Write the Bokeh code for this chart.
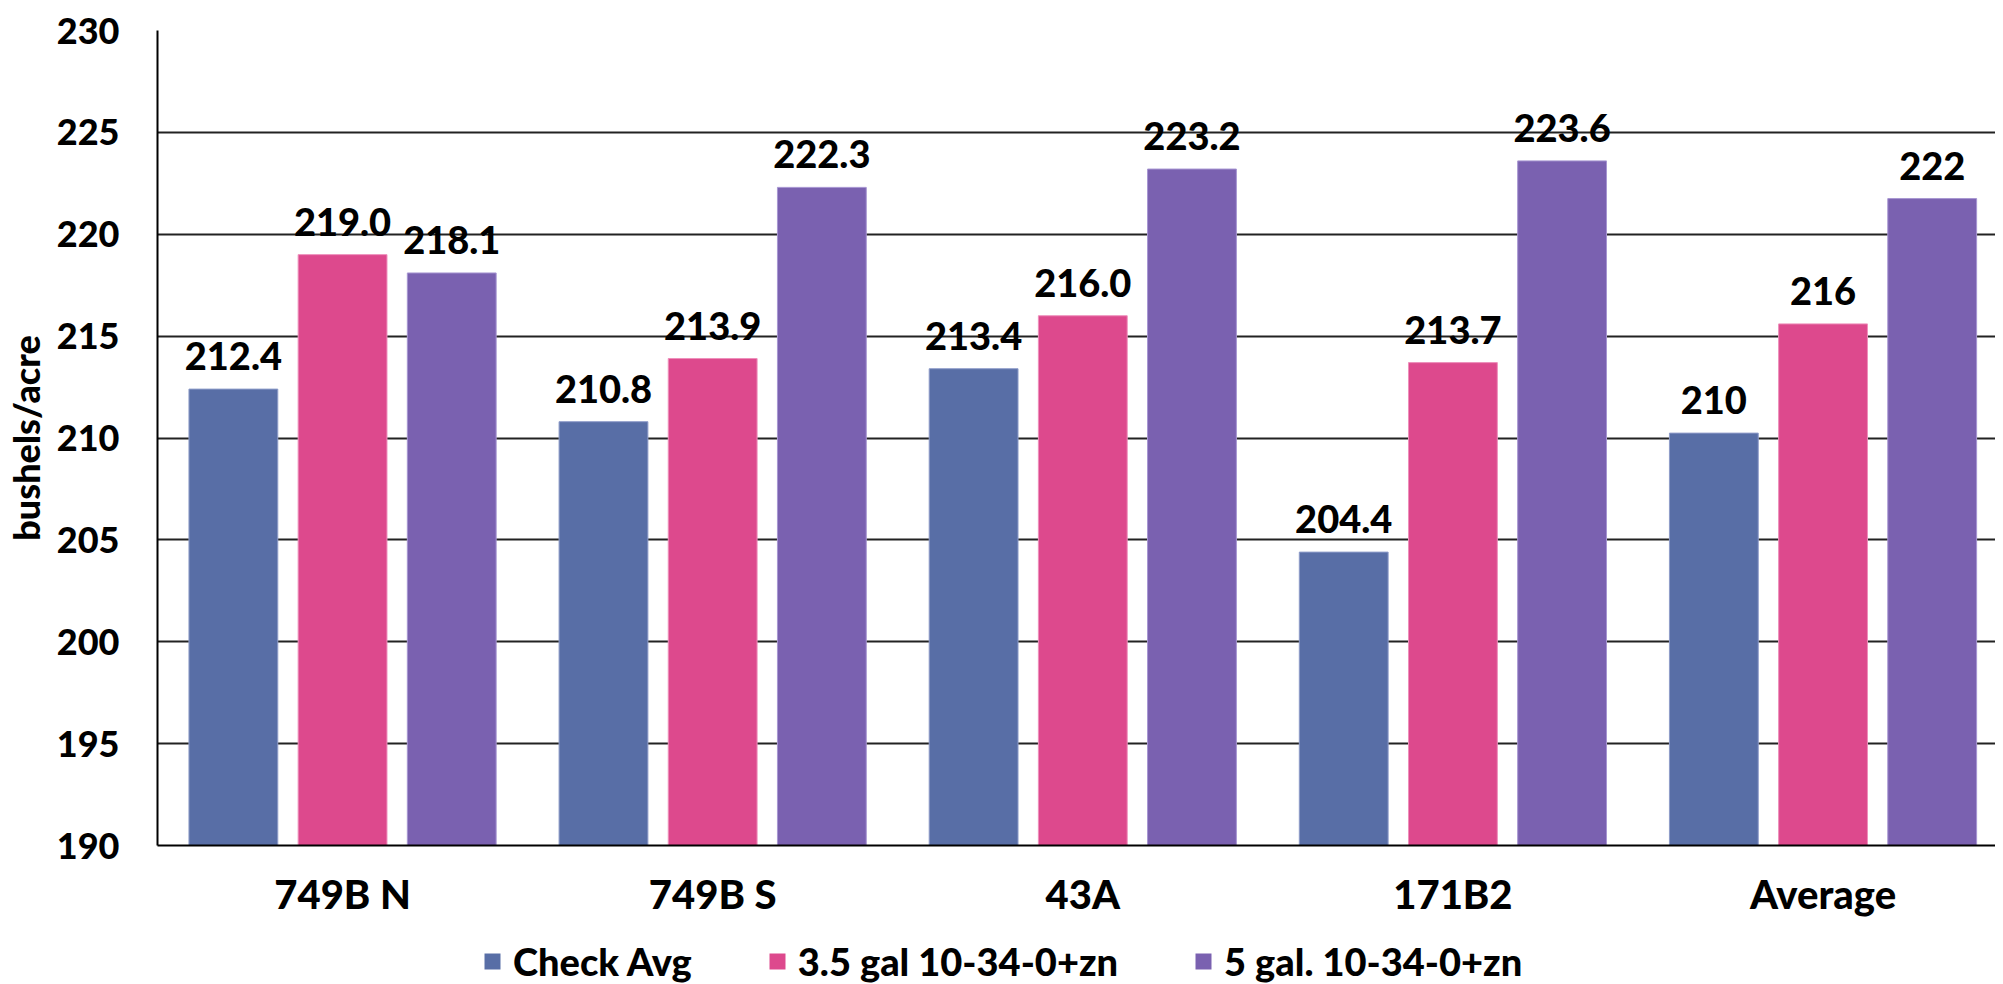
import numpy as np
from bokeh.plotting import figure
from bokeh.layouts import column
from bokeh.models import (ColumnDataSource, LabelSet, Legend, LegendItem,
                          FixedTicker, Range1d)
from bokeh.core.properties import value
from bokeh.embed import file_html
from bokeh.resources import INLINE

# ---- data ----
categories = ["749B N", "749B S", "43A", "171B2", "Average"]
series_names = ["Check Avg", "3.5 gal 10-34-0+zn", "5 gal. 10-34-0+zn"]
check_avg = [212.4, 210.8, 213.4, 204.4, 210.24]
gal_35 = [219.0, 213.9, 216.0, 213.7, 215.6]
gal_5 = [218.1, 222.3, 223.2, 223.6, 221.75]
label_decimals = [1, 1, 1, 1, 0]
y_ticks = [190, 195, 200, 205, 210, 215, 220, 225, 230]
colors = ["#586EA6", "#DD498D", "#7A61B0"]
edge_colors = ["#8E9CC9", "#EE8FBB", "#A796D2"]

FONT = "Lato Black"
STYLE = "normal"
series = [check_avg, gal_35, gal_5]
offsets = [-0.295, 0.0, 0.295]
bar_w = 0.24

p = figure(width=1995, height=920, output_backend="svg", toolbar_location=None,
           x_range=Range1d(-0.5, 4.466), y_range=Range1d(190, 230),
           min_border_left=155, min_border_right=0, min_border_top=30,
           min_border_bottom=72)
p.outline_line_color = None
p.background_fill_color = "white"
p.border_fill_color = "white"

idx = np.arange(len(categories))
renderers = []
for vals, off, col, ecol in zip(series, offsets, colors, edge_colors):
    labels = [f"{v:.{d}f}" for v, d in zip(vals, label_decimals)]
    src = ColumnDataSource(dict(x=idx + off, top=vals, lab=labels))
    r = p.vbar(x="x", top="top", bottom=190, width=bar_w, source=src,
               fill_color=col, line_color=ecol, line_width=1)
    renderers.append(r)
    ls = LabelSet(x="x", y="top", text="lab", source=src, y_offset=19,
                  text_align="center", text_baseline="alphabetic",
                  text_font=value(FONT), text_font_style=STYLE,
                  text_font_size="38px", text_color="black")
    p.add_layout(ls)

# grid
p.xgrid.visible = False
p.ygrid.ticker = FixedTicker(ticks=y_ticks)
p.ygrid.grid_line_color = "#222222"
p.ygrid.grid_line_width = 2

# axes
p.xaxis.ticker = FixedTicker(ticks=list(idx))
p.xaxis.major_label_overrides = {int(i): c for i, c in zip(idx, categories)}
p.yaxis.ticker = FixedTicker(ticks=y_ticks)
for ax in (p.xaxis[0], p.yaxis[0]):
    ax.axis_line_color = "black"
    ax.axis_line_width = 2
    ax.major_tick_line_color = None
    ax.minor_tick_line_color = None
    ax.major_tick_out = 0
    ax.major_tick_in = 0
    ax.major_label_text_font = FONT
    ax.major_label_text_font_style = STYLE
    ax.major_label_text_color = "black"
p.yaxis.major_label_text_font_size = "36px"
p.xaxis.major_label_text_font_size = "40px"
p.xaxis.major_label_standoff = 24
p.yaxis.major_label_standoff = 38
p.yaxis.axis_label = "bushels/acre"
p.yaxis.axis_label_text_font = FONT
p.yaxis.axis_label_text_font_style = STYLE
p.yaxis.axis_label_text_font_size = "36px"
p.yaxis.axis_label_text_color = "black"
p.yaxis.axis_label_standoff = 6

# ---- legend strip under the chart ----
lg = figure(width=1995, height=64, output_backend="svg", toolbar_location=None,
            x_range=Range1d(0, 1), y_range=Range1d(0, 1), min_border=0)
lg.axis.visible = False
lg.grid.visible = False
lg.outline_line_color = None
lg.border_fill_color = "white"
lg_renderers = [lg.vbar(x=[-10], top=[0], bottom=[-1], width=0.1,
                        fill_color=c, line_color=None) for c in colors]
legend = Legend(items=[LegendItem(label=n, renderers=[r]) for n, r in zip(series_names, lg_renderers)],
                orientation="horizontal", location=(325, 0),
                glyph_width=20, glyph_height=20, label_standoff=11, spacing=75,
                padding=0, margin=0, border_line_color=None,
                background_fill_alpha=0,
                label_text_font=FONT, label_text_font_style=STYLE,
                label_text_font_size="38px", label_text_color="black")
lg.add_layout(legend, "center")

layout = column(p, lg, spacing=0)
open("out.html", "w").write(file_html(layout, INLINE))
